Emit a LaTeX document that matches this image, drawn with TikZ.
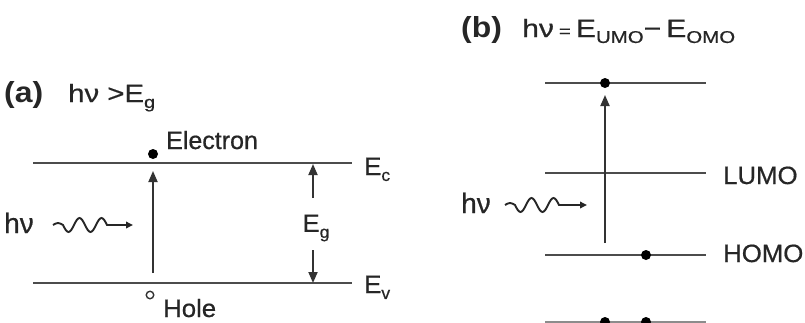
\documentclass[tikz,border=0pt]{standalone}
\usepackage{fontspec}
\usepackage{graphicx}
\setmainfont{Liberation Sans}
\newfontfamily\lbfont{Liberation Sans}[FakeBold=0.6]
\usetikzlibrary{arrows.meta}
\newcommand\subtx[1]{\raisebox{-0.45ex}{\fontsize{17}{17}\selectfont #1}}
\newcommand\sx[1]{\scalebox{1.03}[1]{#1}}
\newcommand\hx[1]{\scalebox{1.1}[1]{#1}}
\begin{document}
\begin{tikzpicture}[x=1pt,y=-1pt,
  level/.style={draw=black!70,line width=2.3pt},
  upar/.style={draw=black!80,line width=1.8pt,-{Triangle[length=11pt,width=9pt]}},
  wv/.style={draw=black!85,line width=1.9pt,-{Triangle[length=7pt,width=6.5pt]}},
  lbl/.style={inner sep=0pt,text=black!85,font=\lbfont\fontsize{25}{28}\selectfont},
  hvl/.style={inner sep=0pt,text=black!85,font=\lbfont\fontsize{28}{30}\selectfont},
  head/.style={inner sep=0pt,text=black!85,font=\fontsize{29}{30}\selectfont\bfseries},
  dot/.style={circle,fill=black,inner sep=0pt,minimum size=10pt},
  hole/.style={circle,draw=black!80,line width=1.4pt,inner sep=0pt,minimum size=7.5pt}]
\useasboundingbox (0,0) rectangle (805,322);
% ---------- panel (a)
\node[head,anchor=base west] (ha) at (4,102) {\hx{(a)}};
\node[lbl,anchor=base west] (ta) at (68,102) {\resizebox{87pt}{\height}{hν >E\subtx{g}}};
\coordinate (ec1) at (33,163); \coordinate (ec2) at (352,163);
\coordinate (ev1) at (33,283); \coordinate (ev2) at (352,283);
\draw[level] (ec1) -- (ec2);
\draw[level] (ev1) -- (ev2);
\node[dot] (el) at (153,154) {};
\node[lbl,anchor=base west] (elt) at (166,149) {Electron};
\node[hole] (ho) at (150,295) {};
\node[lbl,anchor=base west] (hot) at (163,317) {\sx{Hole}};
\coordinate (abot) at (153,273); \coordinate (atop) at (153,171);
\draw[upar] (abot) -- (atop);
\node[lbl,anchor=base west] (ect) at (364,175) {\sx{E\subtx{c}}};
\node[lbl,anchor=base west] (evt) at (364,293) {\sx{E\subtx{v}}};
\node[lbl] (eg) at (316,228) {\sx{E\subtx{g}}};
\coordinate (g1) at (313,198); \coordinate (g1t) at (313,164);
\coordinate (g2) at (313,250); \coordinate (g2t) at (313,283);
\draw[upar] (g1) -- (g1t);
\draw[upar] (g2) -- (g2t);
\node[hvl,anchor=base west] (hva) at (4,233) {hν};
\coordinate (wa1) at (53,225); \coordinate (wa2) at (133,225);
\draw[wv] (wa1) sin ++(5,-2) cos ++(5,2)
  sin ++(5.5,7) cos ++(5.5,-7) sin ++(5.5,-7) cos ++(5.5,7)
  sin ++(5.5,7) cos ++(5.5,-7) sin ++(5.5,-7) cos ++(5.5,7) -- (wa2);
% ---------- panel (b)
\node[head,anchor=base west] (hb) at (461,37) {\hx{(b)}};
\node[lbl,anchor=base west] (tb) at (522,37) {\resizebox{213pt}{\height}{hν\,{\fontsize{17}{17}\selectfont =}\,E\subtx{UMO}−\,E\subtx{OMO}}};
\coordinate (t1) at (545,83); \coordinate (t2) at (706,83);
\coordinate (l1) at (545,173); \coordinate (l2) at (706,173);
\coordinate (h1) at (545,255); \coordinate (h2) at (706,255);
\coordinate (b1) at (545,322); \coordinate (b2) at (706,322);
\draw[level] (t1) -- (t2);
\draw[level] (l1) -- (l2);
\draw[level] (h1) -- (h2);
\draw[level,draw=black!45] (b1) -- (b2);
\node[dot] (td) at (605,83) {};
\node[dot] (hd) at (646,255) {};
\node[dot] (bd1) at (605,322) {};
\node[dot] (bd2) at (646,322) {};
\coordinate (bbot) at (605,243); \coordinate (btop) at (605,95);
\draw[upar] (bbot) -- (btop);
\node[lbl,anchor=base west] (lt) at (723,184) {\sx{LUMO}};
\node[lbl,anchor=base west] (htx) at (723,262) {\sx{HOMO}};
\node[hvl,anchor=base west] (hvb) at (461,213) {hν};
\coordinate (wb1) at (505,205); \coordinate (wb2) at (587,205);
\draw[wv] (wb1) sin ++(5,-2) cos ++(5,2)
  sin ++(5.5,7) cos ++(5.5,-7) sin ++(5.5,-7) cos ++(5.5,7)
  sin ++(5.5,7) cos ++(5.5,-7) sin ++(5.5,-7) cos ++(5.5,7) -- (wb2);
\end{tikzpicture}
\end{document}
